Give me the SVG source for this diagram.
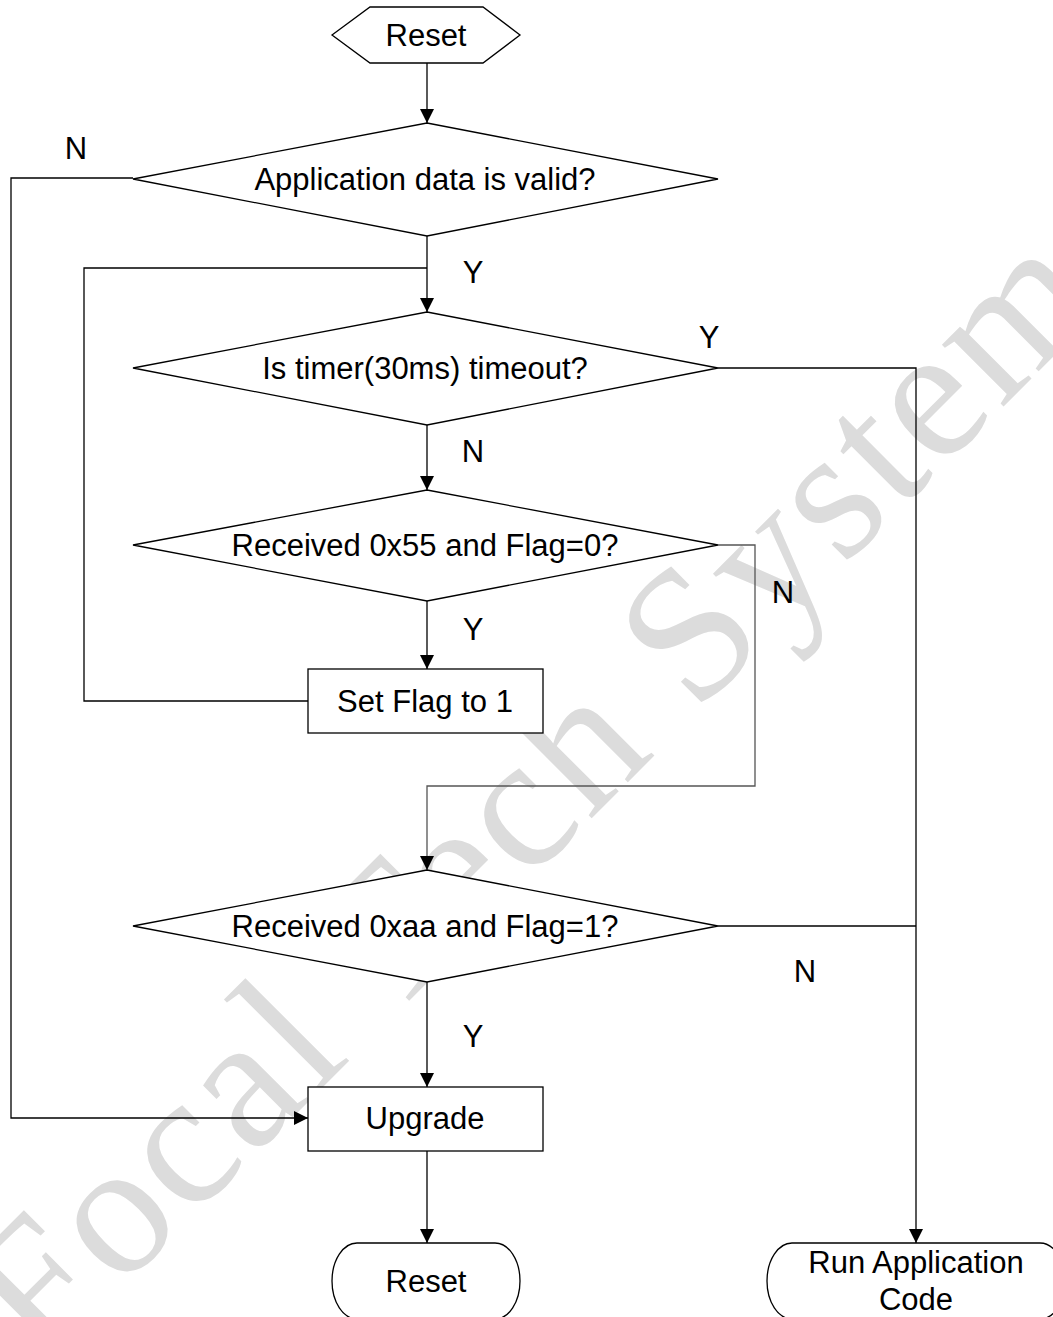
<svg xmlns="http://www.w3.org/2000/svg" width="1053" height="1317" viewBox="0 0 1053 1317">
<style>
.shape{fill:#fff;stroke:#000;stroke-width:1.3}
.t{font-family:"Liberation Sans",Arial,sans-serif;font-size:31px;fill:#000;text-anchor:middle}
.conn{fill:none;stroke:#000;stroke-width:1.3}
.wm{font-family:"Liberation Serif","Times New Roman",serif;font-size:190px;fill:#dcdcdc;letter-spacing:4px}
</style>
<defs>
<marker id="arr" viewBox="0 0 14 14" markerWidth="14" markerHeight="14" refX="14" refY="7" orient="auto" markerUnits="userSpaceOnUse">
<path d="M0,0 L14,7 L0,14 z" fill="#000"/>
</marker>
</defs>
<rect width="1053" height="1317" fill="#fff"/>
<text class="wm" transform="translate(42,1368) rotate(-45)">Focal Tech Systems</text>

<g id="connectors">
<path class="conn" d="M427,63 V123" marker-end="url(#arr)"/>
<path class="conn" d="M427,236 V312" marker-end="url(#arr)"/>
<path class="conn" d="M308,701 H84 V268 H427"/>
<path class="conn" d="M133,178 H11 V1118 H308" marker-end="url(#arr)"/>
<path class="conn" d="M718,368 H916 V1243" marker-end="url(#arr)"/>
<path class="conn" d="M427,425 V490" marker-end="url(#arr)"/>
<path class="conn" d="M427,601 V669" marker-end="url(#arr)"/>
<path class="conn" d="M718,545 H755 V786 H427 V870" marker-end="url(#arr)" style="stroke:#555"/>
<path class="conn" d="M718,926 H916"/>
<path class="conn" d="M427,982 V1087" marker-end="url(#arr)"/>
<path class="conn" d="M427,1151 V1243" marker-end="url(#arr)"/>
<text class="t" x="76" y="159">N</text>
<text class="t" x="473" y="283">Y</text>
<text class="t" x="709" y="348">Y</text>
<text class="t" x="473" y="462">N</text>
<text class="t" x="783" y="603">N</text>
<text class="t" x="473" y="640">Y</text>
<text class="t" x="805" y="982">N</text>
<text class="t" x="473" y="1047">Y</text>
</g>

<g id="reset-start">
<polygon class="shape" points="332,35 370,7 483,7 520,35 483,63 370,63"/>
<text class="t" x="426" y="46">Reset</text>
</g>
<g id="app-valid">
<polygon class="shape" points="427,123 718,179 427,236 133,179"/>
<text class="t" x="425" y="190">Application data is valid?</text>
</g>
<g id="timer-timeout">
<polygon class="shape" points="427,312 718,368 427,425 133,368"/>
<text class="t" x="425" y="379">Is timer(30ms) timeout?</text>
</g>
<g id="recv-55">
<polygon class="shape" points="427,490 718,545 427,601 133,545"/>
<text class="t" x="425" y="556">Received 0x55 and Flag=0?</text>
</g>
<g id="set-flag">
<rect class="shape" x="308" y="669" width="235" height="64"/>
<text class="t" x="425" y="712">Set Flag to 1</text>
</g>
<g id="recv-aa">
<polygon class="shape" points="427,870 718,926 427,982 133,926"/>
<text class="t" x="425" y="937">Received 0xaa and Flag=1?</text>
</g>
<g id="upgrade">
<rect class="shape" x="308" y="1087" width="235" height="64"/>
<text class="t" x="425" y="1129">Upgrade</text>
</g>
<g id="reset-end">
<rect class="shape" x="332" y="1243" width="188" height="76" rx="25" ry="38"/>
<text class="t" x="426" y="1292">Reset</text>
</g>
<g id="run-app">
<rect class="shape" x="767" y="1243" width="298" height="76" rx="25" ry="38"/>
<text class="t" x="916" y="1273">Run Application</text>
<text class="t" x="916" y="1310">Code</text>
</g>
</svg>
